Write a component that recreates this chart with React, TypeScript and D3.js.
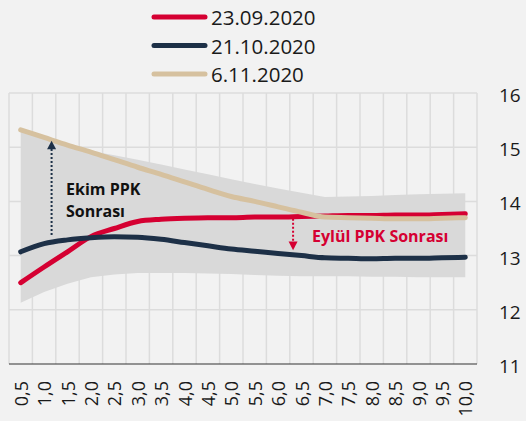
import React from 'react';
import * as d3 from 'd3';

// vade (yıl) etiketleri
const tenors = ['0,5', '1,0', '1,5', '2,0', '2,5', '3,0', '3,5', '4,0', '4,5', '5,0', '5,5', '6,0', '6,5', '7,0', '7,5', '8,0', '8,5', '9,0', '9,5', '10,0'];

const sep23 = [12.5, 12.79, 13.07, 13.35, 13.5, 13.63, 13.67, 13.69, 13.7, 13.7, 13.71, 13.71, 13.72, 13.73, 13.74, 13.74, 13.75, 13.75, 13.76, 13.77];
const oct21 = [13.07, 13.22, 13.29, 13.33, 13.35, 13.34, 13.3, 13.24, 13.18, 13.12, 13.08, 13.04, 13.0, 12.96, 12.95, 12.94, 12.95, 12.95, 12.96, 12.97];
const nov06 = [15.32, 15.18, 15.04, 14.91, 14.77, 14.63, 14.5, 14.36, 14.22, 14.09, 14.0, 13.9, 13.8, 13.71, 13.7, 13.69, 13.68, 13.68, 13.69, 13.7];

// gri bant (min / max)
const bandHigh = [15.32, 15.18, 15.05, 14.93, 14.85, 14.77, 14.68, 14.59, 14.5, 14.41, 14.32, 14.24, 14.16, 14.08, 14.09, 14.1, 14.12, 14.13, 14.14, 14.15];
const bandLow = [12.13, 12.33, 12.48, 12.6, 12.65, 12.68, 12.68, 12.68, 12.67, 12.66, 12.64, 12.63, 12.62, 12.62, 12.62, 12.61, 12.61, 12.6, 12.6, 12.6];

const yTicks = [11, 12, 13, 14, 15, 16];

const series = [
  { name: '23.09.2020', values: sep23, color: '#d50032' },
  { name: '21.10.2020', values: oct21, color: '#1d3047' },
  { name: '6.11.2020', values: nov06, color: '#d6c19f' },
];

const W = 526;
const H = 421;
const font = '"Open Sans", sans-serif';

export default function App() {
  const x = d3.scaleBand().domain(tenors).range([9, 477]).padding(0);
  const bw = x.bandwidth();
  const cx = (d) => x(d) + bw / 2;
  const y = d3.scaleLinear().domain([11, 16]).range([364, 93]);

  const line = d3
    .line()
    .x((d, i) => cx(tenors[i]))
    .y((d) => y(d))
    .curve(d3.curveMonotoneX);

  const area = d3
    .area()
    .x((d, i) => cx(tenors[i]))
    .y0((d, i) => y(bandLow[i]))
    .y1((d) => y(d));

  // ok işaretleri
  const ekimX = x('1,0') + bw * 0.82;
  const eylulX = x('6,5') + bw * 0.14;

  return (
    <svg
      width={W}
      height={H}
      style={{ position: 'fixed', left: 0, top: 0, background: '#f2f2f2' }}
    >
      <rect width={W} height={H} fill="#f2f2f2" />

      {/* grid */}
      {x.domain().map((d) => (
        <line key={'v' + d} x1={x(d)} x2={x(d)} y1={y(16)} y2={y(11)} stroke="#dcdcdc" strokeWidth={1.5} />
      ))}
      <line x1={477} x2={477} y1={y(16)} y2={y(11)} stroke="#dcdcdc" strokeWidth={1.5} />
      {yTicks.slice(1).map((t) => (
        <line key={'h' + t} x1={9} x2={477} y1={y(t)} y2={y(t)} stroke="#dcdcdc" strokeWidth={1.5} />
      ))}

      {/* band */}
      <path d={area(bandHigh)} fill="#d9d9d9" />

      {/* axis */}
      <line x1={9} x2={477} y1={y(11)} y2={y(11)} stroke="#333" strokeWidth={1.2} />

      {yTicks.map((t) => (
        <text key={'yl' + t} x={499} y={y(t) + 2} dominantBaseline="central" fontFamily={font} fontSize={19} fill="#1a1a1a">
          {t}
        </text>
      ))}

      {tenors.map((d) => (
        <text
          key={'xl' + d}
          transform={`translate(${cx(d)},381) rotate(-90)`}
          textAnchor="end"
          dominantBaseline="central"
          fontFamily={font}
          fontSize={18}
          fill="#1a1a1a"
        >
          {d}
        </text>
      ))}

      {/* series */}
      {series.map((s) => (
        <path key={s.name} d={line(s.values)} fill="none" stroke={s.color} strokeWidth={5} strokeLinecap="round" strokeLinejoin="round" />
      ))}

      {/* Ekim PPK annotation */}
      <line x1={ekimX} x2={ekimX} y1={y(13.38)} y2={y(14.98)} stroke="#1d3047" strokeWidth={2} strokeDasharray="2,2" />
      <path d={`M${ekimX - 4.5},${y(14.96)} L${ekimX + 4.5},${y(14.96)} L${ekimX},${y(15.12)} Z`} fill="#1d3047" />
      <text x={66} y={195} fontFamily={font} fontWeight="bold" fontSize={16} fill="#111">
        Ekim PPK
      </text>
      <text x={66} y={217} fontFamily={font} fontWeight="bold" fontSize={16} fill="#111">
        Sonrası
      </text>

      {/* Eylül PPK annotation */}
      <line x1={eylulX} x2={eylulX} y1={y(13.68)} y2={y(13.24)} stroke="#d50032" strokeWidth={2} strokeDasharray="2,2" />
      <path d={`M${eylulX - 4.5},${y(13.26)} L${eylulX + 4.5},${y(13.26)} L${eylulX},${y(13.1)} Z`} fill="#d50032" />
      <text x={312} y={242} fontFamily={font} fontWeight="bold" fontSize={16} fill="#d50032">
        Eylül PPK Sonrası
      </text>

      {/* legend */}
      {series.map((s, i) => (
        <g key={'lg' + s.name} transform={`translate(0,${17 + i * 28.5})`}>
          <line x1={154} x2={205} y1={0} y2={0} stroke={s.color} strokeWidth={5} strokeLinecap="round" />
          <text x={211} y={0} dominantBaseline="central" fontFamily={font} fontSize={20.5} fill="#1a1a1a">
            {s.name}
          </text>
        </g>
      ))}
    </svg>
  );
}
